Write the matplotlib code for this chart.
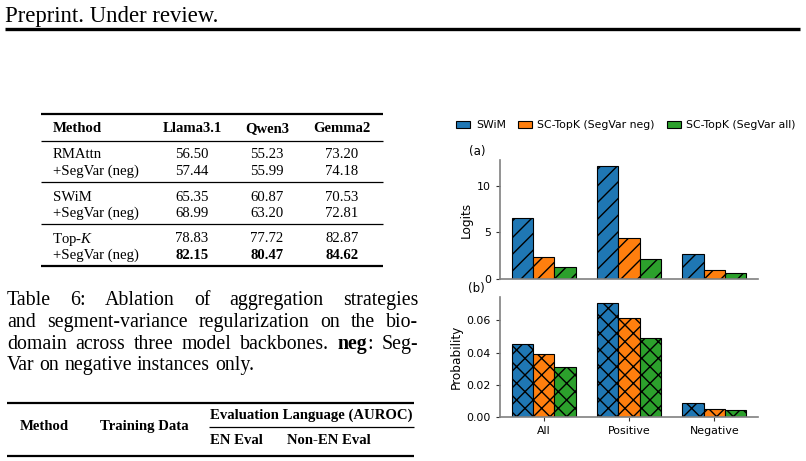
import matplotlib
matplotlib.use("Agg")
import matplotlib.pyplot as plt
from matplotlib.patches import Patch

# page snippet: table 6 + caption on the left, logits/probability bars on the right
SERIF = "Liberation Serif"
plt.rcParams["mathtext.fontset"] = "custom"
plt.rcParams["mathtext.rm"] = SERIF
plt.rcParams["mathtext.it"] = SERIF + ":italic"
plt.rcParams["mathtext.bf"] = SERIF + ":bold"

# ---- data ----
groups = ["All", "Positive", "Negative"]
methods = ["SWiM", "SC-TopK (SegVar neg)", "SC-TopK (SegVar all)"]
colors = ["#1f77b4", "#ff7f0e", "#2ca02c"]

logits_swim = [6.5, 12.15, 2.7]
logits_neg = [2.35, 4.35, 0.95]
logits_all = [1.25, 2.15, 0.62]

prob_swim = [0.0456, 0.0709, 0.0084]
prob_neg = [0.0390, 0.0613, 0.0048]
prob_all = [0.0309, 0.0490, 0.0040]

t6_cols = ["Method", "Llama3.1", "Qwen3", "Gemma2"]
t6_methods = ["RMAttn", "+SegVar (neg)", "SWiM", "+SegVar (neg)", "Top-$K$", "+SegVar (neg)"]
t6_llama = ["56.50", "57.44", "65.35", "68.99", "78.83", "82.15"]
t6_qwen = ["55.23", "55.99", "60.87", "63.20", "77.72", "80.47"]
t6_gemma = ["73.20", "74.18", "70.53", "72.81", "82.87", "84.62"]
t6_bold = [False, False, False, False, False, True]

caption_lines = [
    [[("Table", "normal")], [("6:", "normal")], [("Ablation", "normal")], [("of", "normal")],
     [("aggregation", "normal")], [("strategies", "normal")]],
    [[("and", "normal")], [("segment-variance", "normal")], [("regularization", "normal")],
     [("on", "normal")], [("the", "normal")], [("bio-", "normal")]],
    [[("domain", "normal")], [("across", "normal")], [("three", "normal")], [("model", "normal")],
     [("backbones.", "normal")], [("neg", "bold"), (":", "normal")], [("Seg-", "normal")]],
    [[("Var", "normal")], [("on", "normal")], [("negative", "normal")], [("instances", "normal")],
     [("only.", "normal")]],
]

fig = plt.figure(figsize=(8.06, 4.61), dpi=100)

# overlay axes in pixel units for the page text and rules
pg = fig.add_axes([0, 0, 1, 1])
pg.set_xlim(0, 806)
pg.set_ylim(461, 0)
pg.axis("off")

pg.text(5, 14, "Preprint. Under review.", family=SERIF, fontsize=16.4, va="center_baseline")
pg.plot([5, 800], [29, 29], color="black", lw=2.4, solid_capstyle="butt")

# table 6
tx = [53, 192, 267, 342]
tsize = 10.6
for i, c in enumerate(t6_cols):
    pg.text(tx[i], 127, c, family=SERIF, fontsize=tsize, fontweight="bold",
            ha="left" if i == 0 else "center", va="center_baseline")
row_y = [153, 169.5, 196, 211.5, 237, 253.5]
for y, m, a, b, c, bold in zip(row_y, t6_methods, t6_llama, t6_qwen, t6_gemma, t6_bold):
    pg.text(tx[0] - (1.5 if "$" in m else 0), y, m, family=SERIF, fontsize=tsize, va="center_baseline")
    for x, v in zip(tx[1:], [a, b, c]):
        pg.text(x, y, v, family=SERIF, fontsize=tsize, ha="center", va="center_baseline",
                fontweight="bold" if bold else "normal")
for y, lw in [(114.5, 1.6), (141, 0.9), (182.5, 0.9), (224, 0.9), (266, 1.6)]:
    pg.plot([41, 383], [y, y], color="black", lw=lw, solid_capstyle="butt")

# justified caption
renderer = fig.canvas.get_renderer()
csize = 14.3
cap_y = [298, 320, 341.5, 363]
for k, (y, words) in enumerate(zip(cap_y, caption_lines)):
    objs, widths = [], []
    for w in words:
        segs, total = [], 0
        for txt, wt in w:
            t = pg.text(0, y, txt, family=SERIF, fontsize=csize, fontweight=wt, va="center_baseline")
            wd = t.get_window_extent(renderer).width
            segs.append((t, wd))
            total += wd
        objs.append(segs)
        widths.append(total)
    if k == len(caption_lines) - 1:
        gap = csize * 0.25 * 100 / 72
    else:
        gap = (418 - 7 - sum(widths)) / (len(words) - 1)
    x = 7
    for segs, total in zip(objs, widths):
        xx = x
        for t, wd in segs:
            t.set_x(xx)
            xx += wd
        x += total + gap

# second table header (cut off at the bottom of the page)
pg.plot([7, 414], [403, 403], color="black", lw=1.6, solid_capstyle="butt")
pg.text(20, 425, "Method", family=SERIF, fontsize=tsize, fontweight="bold", va="center_baseline")
pg.text(100, 425, "Training Data", family=SERIF, fontsize=tsize, fontweight="bold", va="center_baseline")
pg.text(210, 414, "Evaluation Language (AUROC)", family=SERIF, fontsize=tsize, fontweight="bold",
        va="center_baseline")
pg.plot([209, 414], [427, 427], color="black", lw=0.9, solid_capstyle="butt")
pg.text(210, 439, "EN Eval", family=SERIF, fontsize=tsize, fontweight="bold", va="center_baseline")
pg.text(287, 439, "Non-EN Eval", family=SERIF, fontsize=tsize, fontweight="bold", va="center_baseline")
pg.plot([7, 414], [456, 456], color="black", lw=1.6, solid_capstyle="butt")

# ---- bar charts ----
ax_a = fig.add_axes([500 / 806, 1 - 279 / 461, 258 / 806, 119 / 461])
ax_b = fig.add_axes([500 / 806, 1 - 416.7 / 461, 258 / 806, 119.4 / 461])

xs = range(len(groups))
w = 0.25
for ax, series, hatch, ylab, tag in [
    (ax_a, [logits_swim, logits_neg, logits_all], "//", "Logits", "(a)"),
    (ax_b, [prob_swim, prob_neg, prob_all], "xx", "Probability", "(b)"),
]:
    for j, (vals, col) in enumerate(zip(series, colors)):
        ax.bar([x + (j - 1) * w for x in xs], vals, width=w, color=col,
               edgecolor="black", linewidth=0.8, hatch=hatch)
    for s in ["top", "right"]:
        ax.spines[s].set_visible(False)
    for s in ["left", "bottom"]:
        ax.spines[s].set_color("#808080")
        ax.spines[s].set_linewidth(1.2)
    ax.tick_params(labelsize=7.9, length=3, width=0.8, color="#333333", pad=3.5)
    ax.set_ylabel(ylab, fontsize=8.7, labelpad=3)
    ax.text(-0.09, 1.075, tag, transform=ax.transAxes, fontsize=8.5, ha="center", va="center")

ax_a.set_xticks(list(xs))
ax_a.set_xticklabels([])
ax_a.tick_params(axis="x", length=0)
ax_a.set_yticks([0, 5, 10])
ax_b.set_xticks(list(xs))
ax_b.set_xticklabels(groups)
ax_b.set_yticks([0, 0.02, 0.04, 0.06])

handles = [Patch(facecolor=c, edgecolor="black", linewidth=0.8) for c in colors]
fig.legend(handles, methods, loc="center", bbox_to_anchor=(626 / 806, 1 - 125 / 461),
           ncol=3, frameon=False, fontsize=7.8, handlelength=1.3, handleheight=0.6,
           handletextpad=0.5, columnspacing=1.1)

fig.savefig("out.png", dpi=100)
